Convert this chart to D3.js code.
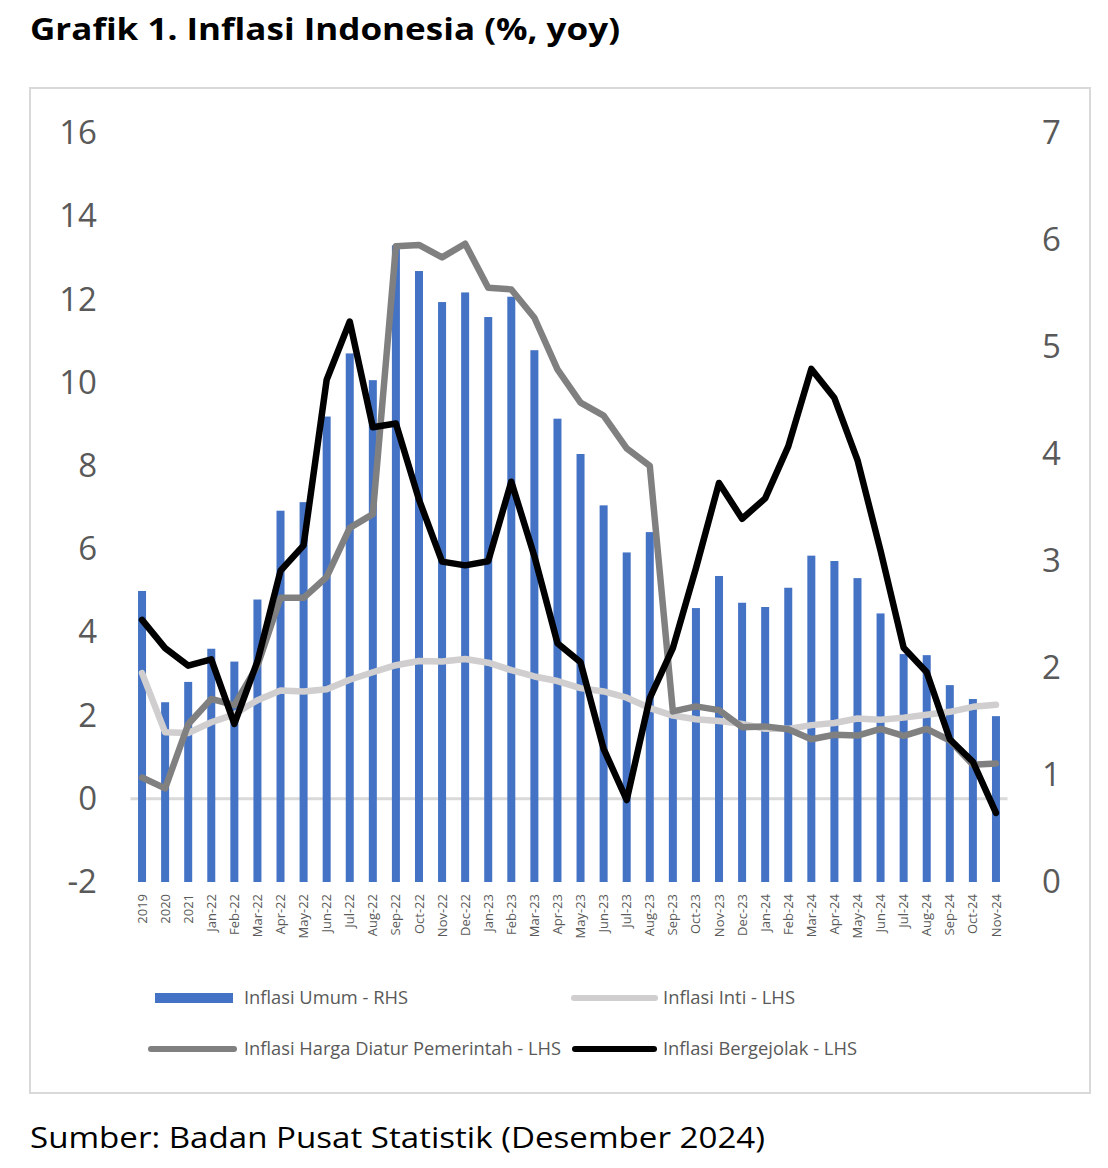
<!DOCTYPE html>
<html><head><meta charset="utf-8">
<script src="https://cdn.jsdelivr.net/npm/d3@7"></script>
<style>body{margin:0;background:#fff;} svg{display:block;}</style>
</head><body>
<svg id="chart" width="1108" height="1168"></svg>
<script>
const categories = ["2019","2020","2021","Jan-22","Feb-22","Mar-22","Apr-22","May-22","Jun-22","Jul-22","Aug-22","Sep-22","Oct-22","Nov-22","Dec-22","Jan-23","Feb-23","Mar-23","Apr-23","May-23","Jun-23","Jul-23","Aug-23","Sep-23","Oct-23","Nov-23","Dec-23","Jan-24","Feb-24","Mar-24","Apr-24","May-24","Jun-24","Jul-24","Aug-24","Sep-24","Oct-24","Nov-24"];
// Inflasi Umum - RHS
const umum = [2.72,1.68,1.87,2.18,2.06,2.64,3.47,3.55,4.35,4.94,4.69,5.95,5.71,5.42,5.51,5.28,5.47,4.97,4.33,4.00,3.52,3.08,3.27,1.55,2.56,2.86,2.61,2.57,2.75,3.05,3.00,2.84,2.51,2.13,2.12,1.84,1.71,1.55];
// Inflasi Inti - LHS
const inti = [3.02,1.60,1.58,1.84,2.03,2.37,2.60,2.58,2.63,2.86,3.04,3.21,3.31,3.30,3.36,3.27,3.09,2.94,2.83,2.66,2.58,2.43,2.18,2.00,1.91,1.87,1.80,1.68,1.68,1.77,1.82,1.93,1.90,1.95,2.02,2.09,2.21,2.26];
// Inflasi Harga Diatur Pemerintah - LHS
const diatur = [0.51,0.25,1.79,2.40,2.25,3.20,4.83,4.83,5.33,6.51,6.84,13.28,13.31,13.01,13.34,12.28,12.24,11.56,10.32,9.52,9.21,8.42,8.00,2.10,2.22,2.13,1.72,1.74,1.67,1.43,1.54,1.52,1.68,1.51,1.68,1.40,0.82,0.85];
// Inflasi Bergejolak - LHS
const bergejolak = [4.30,3.62,3.20,3.35,1.80,3.30,5.48,6.09,10.07,11.47,8.93,9.02,7.19,5.70,5.61,5.71,7.62,5.83,3.74,3.28,1.20,-0.03,2.42,3.62,5.54,7.59,6.73,7.22,8.47,10.33,9.63,8.14,5.96,3.63,3.04,1.43,0.89,-0.34];
const leftTicks = [-2,0,2,4,6,8,10,12,14,16];
const rightTicks = [0,1,2,3,4,5,6,7];

const svg = d3.select("#chart");
const FONT = "'Open Sans', sans-serif";
const TXT = "#595959";
const fmt = d => String(d);

// title
svg.append("text").attr("x",30).attr("y",40).attr("font-family",FONT).attr("font-weight",700)
  .attr("font-size",31).attr("fill","#000").attr("textLength",590).attr("lengthAdjust","spacingAndGlyphs")
  .text("Grafik 1. Inflasi Indonesia (%, yoy)");

// frame
svg.append("rect").attr("x",30).attr("y",88).attr("width",1060).attr("height",1005)
  .attr("fill","none").attr("stroke","#d9d9d9").attr("stroke-width",2);

const x = d3.scaleBand().domain(categories).range([130.5,1007.5]).paddingInner(0).paddingOuter(0);
const yL = d3.scaleLinear().domain([-2,16]).range([882,133]);
const yR = d3.scaleLinear().domain([0,7]).range([882,133]);
const cx = d => x(d) + x.bandwidth()/2;

// left axis
const axL = svg.append("g").attr("transform","translate(97,0)")
  .call(d3.axisLeft(yL).tickValues(leftTicks).tickSize(0).tickPadding(0).tickFormat(fmt));
axL.select(".domain").remove();
axL.selectAll("text").attr("font-family",FONT).attr("font-size",33).attr("fill",TXT);

// right axis
const axR = svg.append("g").attr("transform","translate(1042,0)")
  .call(d3.axisRight(yR).tickValues(rightTicks).tickSize(0).tickPadding(0).tickFormat(fmt));
axR.select(".domain").remove();
axR.selectAll("text").attr("font-family",FONT).attr("font-size",33).attr("fill",TXT);

// zero line
svg.append("line").attr("x1",130.5).attr("x2",1007.5).attr("y1",yL(0)).attr("y2",yL(0))
  .attr("stroke","#d9d9d9").attr("stroke-width",3);

// bars
svg.append("g").selectAll("rect").data(umum).join("rect")
  .attr("x",(d,i)=>cx(categories[i])-4).attr("width",8)
  .attr("y",d=>yR(d)).attr("height",d=>yR(0)-yR(d)).attr("fill","#4472C4");

// lines
const line = (arr, scale) => d3.line().x((d,i)=>cx(categories[i])).y(d=>scale(d))(arr);
svg.append("path").attr("d",line(inti,yL)).attr("fill","none").attr("stroke","#D0CECE").attr("stroke-width",6.5).attr("stroke-linejoin","round").attr("stroke-linecap","round");
svg.append("path").attr("d",line(diatur,yL)).attr("fill","none").attr("stroke","#808080").attr("stroke-width",6.5).attr("stroke-linejoin","round").attr("stroke-linecap","round");
svg.append("path").attr("d",line(bergejolak,yL)).attr("fill","none").attr("stroke","#000").attr("stroke-width",6.5).attr("stroke-linejoin","round").attr("stroke-linecap","round");

// x axis labels
const axX = svg.append("g").attr("transform",`translate(0,894)`)
  .call(d3.axisBottom(x).tickSize(0).tickPadding(0));
axX.select(".domain").remove();
axX.selectAll("text").attr("font-family",FONT).attr("font-size",13).attr("fill",TXT)
  .attr("text-anchor","end").attr("dy","0.35em").attr("y",0)
  .attr("transform","rotate(-90)").attr("x",0);

// legend
const legend = [
  {label:"Inflasi Umum - RHS", type:"rect", color:"#4472C4", x1:155, x2:233, tx:244, tw:164, y:998},
  {label:"Inflasi Inti - LHS", type:"line", color:"#D0CECE", x1:574, x2:655, tx:663, tw:132, y:998},
  {label:"Inflasi Harga Diatur Pemerintah - LHS", type:"line", color:"#808080", x1:151, x2:234, tx:244, tw:317, y:1049},
  {label:"Inflasi Bergejolak - LHS", type:"line", color:"#000", x1:575, x2:654, tx:663, tw:194, y:1049}
];
const lg = svg.append("g");
legend.forEach(l => {
  if (l.type === "rect") {
    lg.append("rect").attr("x",l.x1).attr("y",l.y-5).attr("width",l.x2-l.x1).attr("height",10).attr("fill",l.color);
  } else {
    lg.append("line").attr("x1",l.x1).attr("x2",l.x2).attr("y1",l.y).attr("y2",l.y)
      .attr("stroke",l.color).attr("stroke-width",6).attr("stroke-linecap","round");
  }
  lg.append("text").attr("x",l.tx).attr("y",l.y).attr("dy","0.35em").attr("font-family",FONT)
    .attr("font-size",17.5).attr("fill",TXT).attr("textLength",l.tw).attr("lengthAdjust","spacingAndGlyphs").text(l.label);
});

// source
svg.append("text").attr("x",30).attr("y",1148).attr("font-family",FONT).attr("font-size",30)
  .attr("fill","#000").attr("textLength",735).attr("lengthAdjust","spacingAndGlyphs")
  .text("Sumber: Badan Pusat Statistik (Desember 2024)");
</script>
</body></html>
